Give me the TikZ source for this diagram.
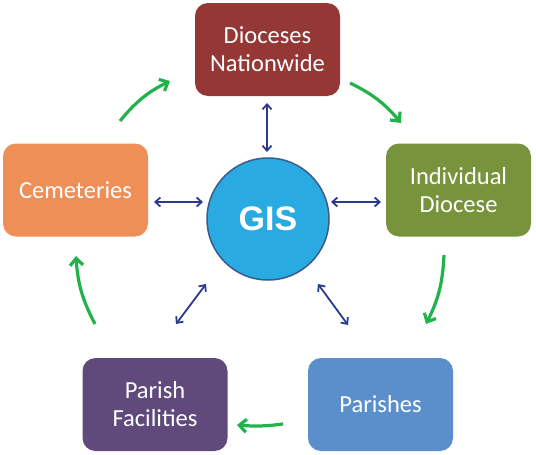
\documentclass[tikz,border=0pt]{standalone}
\usepackage{fontspec}
\setmainfont{Carlito}
\newfontfamily\gisfont{Liberation Sans}
\usetikzlibrary{arrows.meta}
\definecolor{cRed}{HTML}{953735}
\definecolor{cOlive}{HTML}{77933C}
\definecolor{cBlue}{HTML}{5A8FCB}
\definecolor{cPurple}{HTML}{604A7B}
\definecolor{cOrange}{HTML}{EE8F57}
\definecolor{cGis}{HTML}{29ABE2}
\definecolor{cGisBorder}{HTML}{3B5B8C}
\definecolor{cNavy}{HTML}{2B3990}
\definecolor{cGreen}{HTML}{22B24C}
\begin{document}
\begin{tikzpicture}[x=1pt,y=-1pt,
  box/.style={rounded corners=13pt, minimum width=145pt, minimum height=93pt,
    text=white, align=center, font=\fontsize{24.5}{28}\selectfont, inner sep=0pt},
  link/.style={draw=cNavy, line width=1.8pt, {Straight Barb[length=5pt,width=9pt]}-{Straight Barb[length=5pt,width=9pt]}},
  cycle/.style={draw=cGreen, line width=3.2pt, -{Straight Barb[length=7pt,width=13pt]}}]
\useasboundingbox (0,0) rectangle (536,455);
\node[box, fill=cRed] (dn) at (267.5,49.5) {Dioceses\\Nationwide};
\node[box, fill=cOlive] (id) at (458.5,190) {Individual\\Diocese};
\node[box, fill=cBlue] (pa) at (380.5,404.5) {Parishes};
\node[box, fill=cPurple] (pf) at (155,404.5) {Parish\\Facilities};
\node[box, fill=cOrange] (ce) at (75.5,190) {Cemeteries};
\node[circle, fill=cGis, draw=cGisBorder, line width=1.5pt, minimum size=122pt, inner sep=0pt,
  text=white, font=\gisfont\bfseries\fontsize{34}{34}\selectfont] (gis) at (268,219) {GIS};
% blue links
\coordinate (t1) at (267,103); \coordinate (t2) at (267,152);
\coordinate (l1) at (154,202); \coordinate (l2) at (203,202);
\coordinate (r1) at (331,202); \coordinate (r2) at (381,202);
\coordinate (bl1) at (176,324); \coordinate (bl2) at (206,284);
\coordinate (br1) at (318,284); \coordinate (br2) at (348,325);
\draw[link] (t1) -- (t2);
\draw[link] (l1) -- (l2);
\draw[link] (r1) -- (r2);
\draw[link] (bl1) -- (bl2);
\draw[link] (br1) -- (br2);
% green cycle
\coordinate (g1a) at (120,121); \coordinate (g1b) at (170,81);
\coordinate (g2a) at (350,83); \coordinate (g2b) at (401,123);
\coordinate (g3a) at (444,255); \coordinate (g3b) at (426,324);
\coordinate (g4a) at (283,424); \coordinate (g4b) at (237,425);
\coordinate (g5a) at (95,324); \coordinate (g5b) at (76,256);
\draw[cycle] (g1a) to[bend left=12] (g1b);
\draw[cycle] (g2a) to[bend left=12] (g2b);
\draw[cycle] (g3a) to[bend left=12] (g3b);
\draw[cycle] (g4a) to[bend left=6] (g4b);
\draw[cycle] (g5a) to[bend left=12] (g5b);
\end{tikzpicture}
\end{document}
